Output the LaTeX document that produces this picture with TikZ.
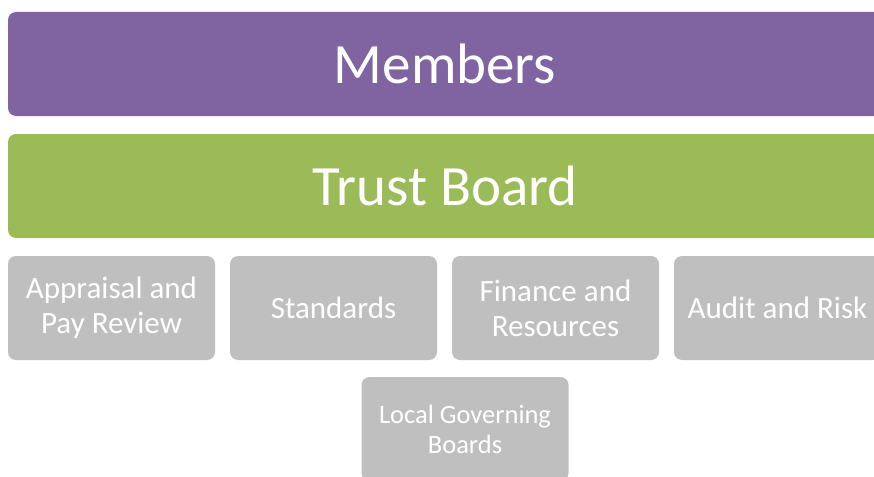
\documentclass[tikz,border=0pt]{standalone}
\usepackage{fontspec}
\setmainfont{Carlito}
\definecolor{membersc}{HTML}{8064A2}
\definecolor{boardc}{HTML}{9BBB59}
\definecolor{committeec}{HTML}{BFBFBF}
\tikzset{
    band/.style={rounded corners=8pt, text=white, minimum width=874pt, minimum height=104pt,
        inner sep=0pt, font=\fontsize{57}{60}\selectfont},
    committee/.style={rounded corners=8pt, fill=committeec, text=white, minimum width=207pt,
        minimum height=104pt, inner sep=0pt, align=center, font=\fontsize{31}{35}\selectfont},
}
\begin{document}
\begin{tikzpicture}[x=1pt,y=-1pt]
        \useasboundingbox (0,0) rectangle (874,476);
        \clip (0,0) rectangle (874,476);
        %% Top levels
        \node[band, fill=membersc] (members) at (445,64) {Members};
        \node[band, fill=boardc] (board) at (445,186) {Trust Board};
        %% Committees
        \node[committee] (pay) at (111.5,308) {Appraisal and\\Pay Review};
        \node[committee] (standards) at (333.5,308) {Standards};
        \node[committee] (finance) at (555.5,308) {Finance and\\Resources};
        \node[committee] (audit) at (777.5,308) {Audit and Risk};
        %% Local level
        \node[committee, font=\fontsize{26.5}{30}\selectfont] (lgb) at (465,429) {Local Governing\\Boards};
    \end{tikzpicture}
\end{document}
